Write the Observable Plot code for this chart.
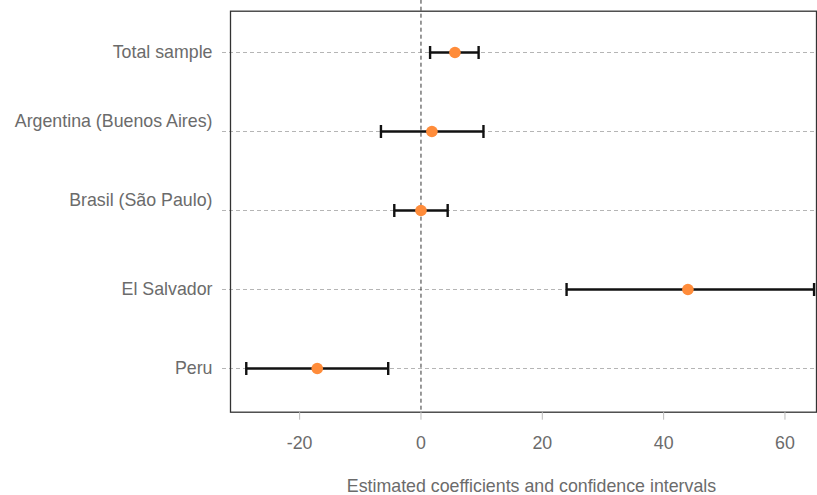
<!DOCTYPE html>
<html>
<head>
<meta charset="utf-8">
<script src="https://cdn.jsdelivr.net/npm/d3@7"></script>
<script src="https://cdn.jsdelivr.net/npm/@observablehq/plot@0.6"></script>
<style>
  html, body { margin: 0; padding: 0; background: #fff; }
  #chart svg { display: block; }
</style>
</head>
<body>
<div id="chart"></div>
<script>
const categories = ["Total sample", "Argentina (Buenos Aires)", "Brasil (São Paulo)", "El Salvador", "Peru"];
const estimates  = [5.6, 1.8, 0.0, 44.0, -17.1];
const lowerCI    = [1.5, -6.6, -4.4, 24.0, -28.8];
const upperCI    = [9.5, 10.3, 4.4, 64.8, -5.4];
const xTicks     = [-20, 0, 20, 40, 60];
const xTitle     = "Estimated coefficients and confidence intervals";
const shiftedLabels = ["Argentina (Buenos Aires)", "Brasil (São Paulo)"];

const data = categories.map((c, i) => ({name: c, est: estimates[i], lo: lowerCI[i], hi: upperCI[i]}));
const textColor = "#6b6b6b";

// vertical cap symbol for error bars
const capSymbol = {
  draw(context) {
    context.moveTo(0, -6.5);
    context.lineTo(0, 6.5);
  }
};

const chart = Plot.plot({
  width: 817,
  height: 495,
  marginLeft: 230,
  marginRight: 1,
  marginTop: 10.7,
  marginBottom: 83.3,
  style: {fontFamily: "'Liberation Sans', Arial, sans-serif", fontSize: "17.8px", color: textColor, background: "#fff"},
  x: {domain: [-31.4, 65.2]},
  y: {type: "point", domain: categories, padding: 0, range: [51, 368.7]},
  marks: [
    Plot.ruleY(categories, {y: d => d, stroke: "#b5b5b5", strokeDasharray: "4,3", strokeWidth: 1, insetLeft: -8}),
    Plot.ruleX([0], {x: d => d, stroke: "#333", strokeDasharray: "4,3", strokeWidth: 1, insetTop: -11}),
    Plot.frame({stroke: "#333", strokeWidth: 1.3}),
    Plot.axisX({ticks: xTicks, tickSize: 8, tickPadding: 16, stroke: "#bbb", tickFormat: d => d, label: null, fill: textColor}),
    Plot.axisY(categories.filter(c => !shiftedLabels.includes(c)), {tickSize: 0, tickPadding: 18, label: null, fill: textColor}),
    Plot.axisY(shiftedLabels, {tickSize: 0, tickPadding: 18, label: null, fill: textColor, dy: -10}),
    Plot.ruleY(data, {y: "name", x1: "lo", x2: "hi", stroke: "#111", strokeWidth: 2.4}),
    Plot.dot(data, {x: "lo", y: "name", symbol: capSymbol, r: 5, fill: "none", stroke: "#111", strokeWidth: 2.4}),
    Plot.dot(data, {x: "hi", y: "name", symbol: capSymbol, r: 5, fill: "none", stroke: "#111", strokeWidth: 2.4}),
    Plot.dot(data, {x: "est", y: "name", r: 5.8, fill: "#ff8c3a", stroke: "none"}),
    Plot.text([xTitle], {text: d => d, frameAnchor: "bottom", dy: 80, dx: 8, fill: textColor})
  ]
});
document.getElementById("chart").appendChild(chart);
</script>
</body>
</html>
